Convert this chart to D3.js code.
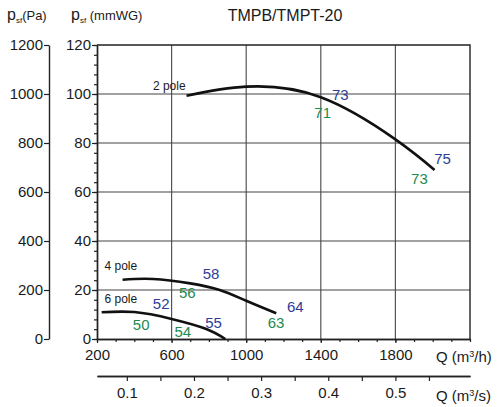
<!DOCTYPE html>
<html><head><meta charset="utf-8">
<script src="https://cdn.jsdelivr.net/npm/d3@7/dist/d3.min.js"></script>
<style>
body{margin:0;background:#fff;}
svg{display:block;font-family:"Liberation Sans",Arial,sans-serif;}
</style></head>
<body><svg id="c" width="501" height="407"></svg>
<script>
// ---- data ----
const title = "TMPB/TMPT-20";
const qTicks = [200, 600, 1000, 1400, 1800];
const qsTicks = [0.1, 0.2, 0.3, 0.4, 0.5];
const mmTicks = [0, 20, 40, 60, 80, 100, 120];
const paTicks = [0, 200, 400, 600, 800, 1000, 1200];
// curves: [Q m3/h, psf mmWG]
const pole2 = [[680,99.3],[1000,103],[1400,98.7],[1800,81.5],[2010,69]];
const pole4 = [[337,24.2],[500,24.5],[700,22.7],[858,20],[1000,15.6],[1161,10.5]];
const pole6 = [[225,10.9],[400,11],[600,8.2],[786,4.1],[888,0]];
const curveLabels = [{t:"2 pole",q:500,v:101.5},{t:"4 pole",q:240,v:28.2},{t:"6 pole",q:240,v:14.6}];
// noise labels [text, Q, mmWG, colour key]
const noiseLabels = [
  ["73",1505,99.5,"b"],["71",1410,92.5,"g"],["75",2053,73.5,"b"],["73",1929,65.5,"g"],
  ["58",812,26.5,"b"],["56",684,19,"g"],["52",544,14.3,"b"],["50",437,5.7,"g"],
  ["54",660,2.8,"g"],["55",825,6.8,"b"],["63",1160,6.6,"g"],["64",1263,13.3,"b"]
];
const colors = {b:"#2e3d96", g:"#1d8a4e"};

// ---- layout ----
const svg = d3.select("#c");
const x = d3.scaleLinear().domain([200,2200]).range([97,470]);
const y = d3.scaleLinear().domain([0,120]).range([339,45]);
const yPa = d3.scaleLinear().domain([0,1200]).range([339,45]);
const xs = d3.scaleLinear().domain([200/3600,2200/3600]).range([97,470]);

// grid
svg.append("g").selectAll("line").data(qTicks.slice(1)).join("line")
  .attr("x1",d=>x(d)).attr("x2",d=>x(d)).attr("y1",y(0)).attr("y2",y(120))
  .attr("stroke","#555").attr("stroke-width",1.2);
svg.append("g").selectAll("line").data(mmTicks.slice(1,-1)).join("line")
  .attr("x1",x(200)).attr("x2",x(2200)).attr("y1",d=>y(d)).attr("y2",d=>y(d))
  .attr("stroke","#444").attr("stroke-width",1.2);
// top & right border
svg.append("path").attr("d",`M${x(200)},${y(120)}H${x(2200)}V${y(0)}`)
  .attr("fill","none").attr("stroke","#222").attr("stroke-width",1.4);

const fs = 15;
function styleAxis(g){
  g.selectAll("path.domain").attr("stroke","#222").attr("stroke-width",1.4);
  g.selectAll(".tick line").attr("stroke","#222").attr("stroke-width",1.2);
  g.selectAll("text").attr("fill","#1a1a1a").style("font-size",fs+"px").style("font-family","Liberation Sans, Arial, sans-serif");
}
const fmtInt = d3.format("d");
// mmWG axis
const yMinor = d3.range(0,121,4);
svg.append("g").attr("transform",`translate(${x(200)},0)`)
  .call(d3.axisLeft(y).tickValues(yMinor).tickSize(3).tickFormat("").tickSizeOuter(0)).call(styleAxis);
svg.append("g").attr("transform",`translate(${x(200)},0)`)
  .call(d3.axisLeft(y).tickValues(mmTicks).tickSize(5).tickPadding(1).tickFormat(fmtInt).tickSizeOuter(0)).call(styleAxis);
// Pa axis
svg.append("g").attr("transform",`translate(49,0)`)
  .call(d3.axisLeft(yPa).tickValues(paTicks).tickSize(5).tickPadding(1).tickFormat(fmtInt).tickSizeOuter(0)).call(styleAxis);
// Q m3/h axis
svg.append("g").attr("transform",`translate(0,${y(0)})`)
  .call(d3.axisBottom(x).tickValues(d3.range(200,2201,100)).tickSize(3).tickFormat("").tickSizeOuter(0)).call(styleAxis);
svg.append("g").attr("transform",`translate(0,${y(0)})`)
  .call(d3.axisBottom(x).tickValues(qTicks).tickSize(4).tickPadding(6).tickFormat(fmtInt).tickSizeOuter(0)).call(styleAxis);
// Q m3/s axis
svg.append("g").attr("transform",`translate(0,376)`)
  .call(d3.axisBottom(xs).tickValues([0.15,0.25,0.35,0.45,0.55]).tickSize(5).tickFormat("").tickSizeOuter(0)).call(styleAxis);
svg.append("g").attr("transform",`translate(0,376)`)
  .call(d3.axisBottom(xs).tickValues(qsTicks).tickSize(5).tickPadding(6).tickFormat(d3.format(".1f")).tickSizeOuter(0)).call(styleAxis);

// axis titles
const T = (tx,ty,anchor)=>svg.append("text").attr("x",tx).attr("y",ty).attr("text-anchor",anchor||"start")
  .attr("fill","#1a1a1a").style("font-size",fs+"px");
let t1 = T(436,362); t1.append("tspan").text("Q (m"); t1.append("tspan").text("3").attr("dy",-5).style("font-size","9px");
t1.append("tspan").text("/h)").attr("dy",5);
let t2 = T(436,401); t2.append("tspan").text("Q (m"); t2.append("tspan").text("3").attr("dy",-5).style("font-size","9px");
t2.append("tspan").text("/s)").attr("dy",5);
let p1 = T(7,20); p1.append("tspan").text("p").style("font-size","16px"); p1.append("tspan").text("sf").attr("dy",3).style("font-size","8px");
p1.append("tspan").text("(Pa)").attr("dy",-3).style("font-size","13px");
let p2 = T(71,20); p2.append("tspan").text("p").style("font-size","16px"); p2.append("tspan").text("sf").attr("dy",3).style("font-size","8px");
p2.append("tspan").text(" (mmWG)").attr("dy",-3).style("font-size","13px");
T(285,21,"middle").text(title).style("font-size","16px");

// curves
const line = d3.line().x(d=>x(d[0])).y(d=>y(d[1])).curve(d3.curveNatural);
svg.append("g").selectAll("path").data([pole2,pole4,pole6]).join("path")
  .attr("d",line).attr("fill","none").attr("stroke","#111").attr("stroke-width",2.6).attr("stroke-linecap","butt");

svg.append("g").selectAll("text").data(curveLabels).join("text")
  .attr("x",d=>x(d.q)).attr("y",d=>y(d.v)).text(d=>d.t)
  .attr("fill","#1a1a1a").style("font-size","12px");
svg.append("g").selectAll("text").data(noiseLabels).join("text")
  .attr("x",d=>x(d[1])).attr("y",d=>y(d[2])).attr("text-anchor","middle").attr("dy","0.35em")
  .text(d=>d[0]).attr("fill",d=>colors[d[3]]).style("font-size","15px");
</script></body></html>
